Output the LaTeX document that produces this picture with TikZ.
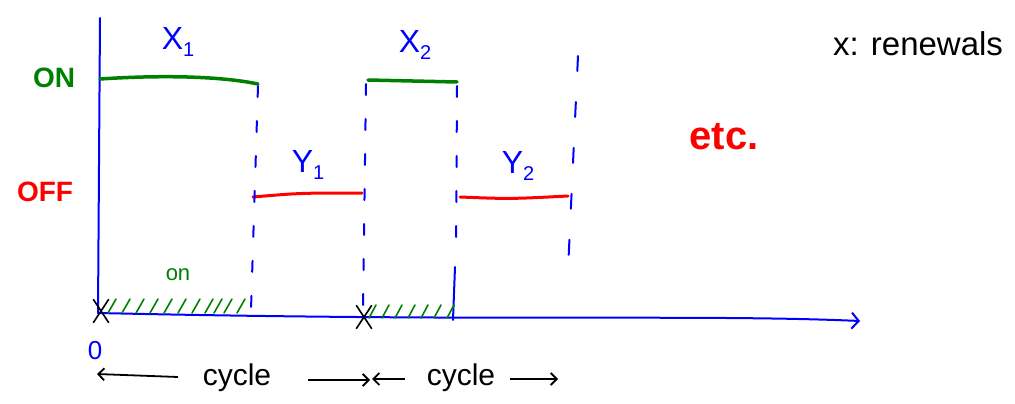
\documentclass[tikz,border=0pt]{standalone}
\usepackage{fontspec}
\setmainfont{Liberation Sans}
\usetikzlibrary{arrows.meta,shapes.misc}
\definecolor{pblue}{RGB}{0,0,255}
\definecolor{pgreen}{RGB}{0,128,0}
\definecolor{pred}{RGB}{255,0,0}
\newcommand{\sublab}[2]{#1\raisebox{-7pt}{\fontsize{20}{20}\selectfont #2}}
\tikzset{
  axisline/.style={draw=pblue,line width=2pt,line cap=round},
  onl/.style={draw=pgreen,line width=3.5pt,line cap=round},
  offl/.style={draw=pred,line width=3pt,line cap=round},
  dashv/.style={draw=pblue,line width=2pt,dash pattern=on 11pt off 24pt,line cap=round},
  solidv/.style={draw=pblue,line width=2pt,line cap=round},
  hatch/.style={draw=pgreen,line width=1.6pt,line cap=round},
  bluelab/.style={text=pblue,font=\fontsize{32}{32}\selectfont,inner sep=0pt},
  marker/.style={draw=black,cross out,line width=1.6pt,minimum width=14pt,minimum height=22pt,inner sep=0pt},
  cyc/.style={text=black,font=\fontsize{30}{30}\selectfont,inner sep=0pt},
  carrow/.style={draw=black,line width=1.8pt,-{Straight Barb[length=6pt,width=12pt]}}
}
\begin{document}
\begin{tikzpicture}[x=1pt,y=-1pt]
\useasboundingbox (0,0) rectangle (1015,404);

% axes
\coordinate (ytop) at (100,18);
\coordinate (orig) at (98,313);
\coordinate (xend) at (860,321);
\draw[axisline] (ytop) -- (orig);
\draw[axisline,-{Straight Barb[length=7pt,width=16pt]}] (orig) .. controls (500,322) and (700,314) .. (xend);

% ON / OFF segments
\coordinate (on1a) at (100,79);
\coordinate (on1b) at (258,84);
\coordinate (on2a) at (368,80);
\coordinate (on2b) at (457,82);
\coordinate (off1a) at (253,197);
\coordinate (off1b) at (362,193);
\coordinate (off2a) at (460,197);
\coordinate (off2b) at (568,196);
\draw[onl] (on1a) .. controls (160,75) and (220,76) .. (on1b);
\draw[onl] (on2a) -- (on2b);
\draw[offl] (off1a) .. controls (300,193) .. (off1b);
\draw[offl] (off2a) .. controls (510,199) .. (off2b);

% vertical dashed separators
\coordinate (d1t) at (258,86);
\coordinate (d1b) at (251,310);
\coordinate (d2t) at (366,84);
\coordinate (d2b) at (363,312);
\coordinate (d3t) at (457,86);
\coordinate (d3m) at (456,258);
\coordinate (d3s) at (455,267);
\coordinate (d3b) at (453,320);
\coordinate (d4t) at (578,56);
\coordinate (d4b) at (568,270);
\draw[dashv] (d1t) -- (d1b);
\draw[dashv] (d2t) -- (d2b);
\draw[dashv] (d3t) -- (d3m);
\draw[solidv] (d3s) -- (d3b);
\draw[dashv,dash pattern=on 15pt off 31pt] (d4t) -- (d4b);

% hatching of ON time
\foreach \x in {108,122,136,150,164,178,192,205,214,224,237}
  \draw[hatch] (\x,313) -- (\x+8,299);
\foreach \x in {369,382,395,408,421,434,447}
  \draw[hatch] (\x,318) -- (\x+7,305);

% renewal markers
\node[marker] (m1) at (101,311) {};
\node[marker] (m2) at (364,317) {};

% labels
\node[bluelab] (lx1) at (178,42) {\sublab{X}{1}};
\node[bluelab] (lx2) at (415,45) {\sublab{X}{2}};
\node[bluelab] (ly1) at (308,165) {\sublab{Y}{1}};
\node[bluelab] (ly2) at (518,166) {\sublab{Y}{2}};
\node[text=pgreen,font=\fontsize{28}{28}\selectfont\bfseries,inner sep=0pt] (lon) at (54,78) {ON};
\node[text=pred,font=\fontsize{28}{28}\selectfont\bfseries,inner sep=0pt] (loff) at (45,192) {OFF};
\node[text=pgreen,font=\fontsize{22}{22}\selectfont,inner sep=0pt] (lon2) at (178,275) {on};
\node[text=pblue,font=\fontsize{26}{26}\selectfont,inner sep=0pt] (lzero) at (95,351) {0};
\node[text=black,font=\fontsize{33}{33}\selectfont,inner sep=0pt] (lren) at (918,44) {x: renewals};
\node[text=pred,font=\fontsize{40}{40}\selectfont\bfseries,inner sep=0pt] (letc) at (724,137) {etc.};

% cycle arrows
\node[cyc] (cy1) at (237,378) {cycle};
\node[cyc] (cy2) at (461,378) {cycle};
\coordinate (a1s) at (178,377);
\coordinate (a1e) at (97,374);
\coordinate (a2s) at (308,380);
\coordinate (a2e) at (370,380);
\coordinate (a3s) at (405,379);
\coordinate (a3e) at (372,379);
\coordinate (a4s) at (510,379);
\coordinate (a4e) at (558,379);
\draw[carrow] (a1s) -- (a1e);
\draw[carrow] (a2s) -- (a2e);
\draw[carrow] (a3s) -- (a3e);
\draw[carrow] (a4s) -- (a4e);
\end{tikzpicture}
\end{document}
